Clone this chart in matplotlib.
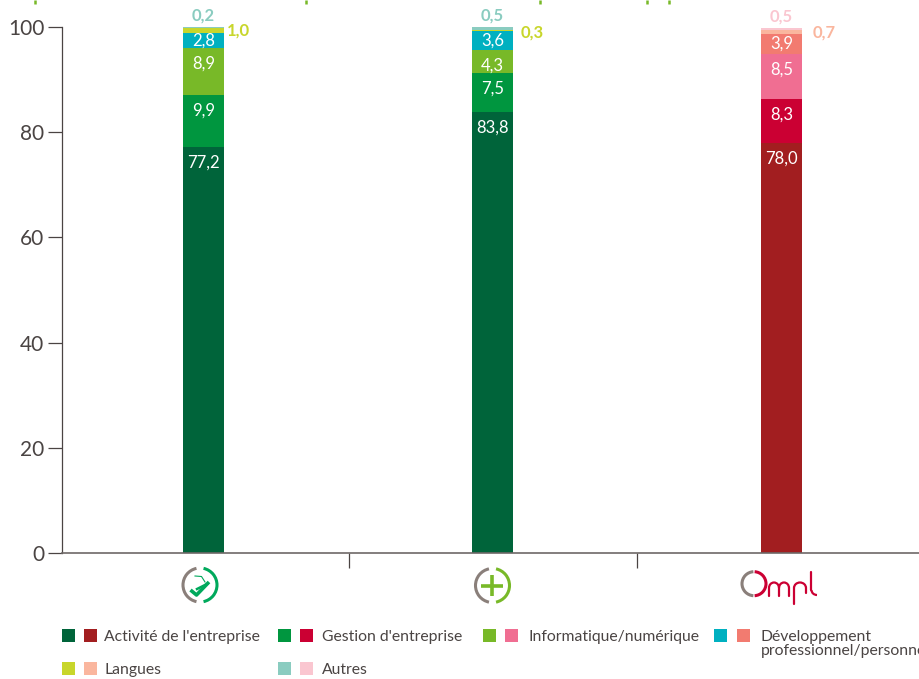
import matplotlib
matplotlib.use("Agg")
import matplotlib.pyplot as plt
from matplotlib.patches import Arc, Rectangle

plt.rcParams["font.family"] = ["Lato", "DejaVu Sans"]

# share of each training theme, one list per stacked segment
activite = [77.2, 83.8, 78.0]
gestion = [9.9, 7.5, 8.3]
informatique = [8.9, 4.3, 8.5]
developpement = [2.8, 3.6, 3.9]
langues = [1.0, 0.3, 0.7]
autres = [0.2, 0.5, 0.5]
series = [activite, gestion, informatique, developpement, langues, autres]

y_ticks = [0, 20, 40, 60, 80, 100]

# colours per segment: first two bars are green, the third is red
greens = ["#00643a", "#00963f", "#78b928", "#00b0c0", "#c8d62b", "#8accc0"]
reds = ["#a21e20", "#cb0033", "#f06e92", "#f27b70", "#fab69e", "#fac6d0"]

legend_labels = ["Activité de l'entreprise", "Gestion d'entreprise", "Informatique/numérique",
                 "Développement\nprofessionnel/personnel", "Langues", "Autres"]
legend_x = [62, 278, 483, 714, 62, 278]
legend_y = [635.5, 635.5, 635.5, 635.5, 668.5, 668.5]
legend_text_x = [104.5, 322, 529, 761, 104.5, 322]

W, H = 920, 679
text_col = "#4a4443"
fig = plt.figure(figsize=(W / 100, H / 100), dpi=100)

# main axes, placed on the pixel positions of the reference
left, right, bottom, top = 62.5, 920, 553, 27
ax = fig.add_axes([left / W, 1 - bottom / H, (right - left) / W, (bottom - top) / H])
ax.set_xlim(-141 / 289, 716.5 / 289)
ax.set_ylim(0, 100)

x = [0, 1, 2]
base = [0, 0, 0]
side_offset = [17, 20.5, 22.5]  # points from bar centre to the side label
for s, vals in enumerate(series):
    cols = [greens[s], greens[s], reds[s]]
    ax.bar(x, vals, width=41 / 289, bottom=base, color=cols, linewidth=0)
    for i, v in enumerate(vals):
        seg_top = base[i] + v
        label = f"{v:.1f}".replace(".", ",")
        if s < 3:
            # white value sits just under the top of its segment
            ax.annotate(label, (x[i], seg_top), xytext=(0, -5.5), textcoords="offset points",
                        ha="center", va="top", color="white", fontsize=12)
        elif s == 3:
            ax.annotate(label, (x[i], base[i] + v / 2), xytext=(0, 0), textcoords="offset points",
                        ha="center", va="center", color="white", fontsize=12)
        elif s == 4:
            # small segments get a coloured label at the side
            ax.annotate(label, (x[i], seg_top), xytext=(side_offset[i], -2), textcoords="offset points",
                        ha="left", va="center", color=cols[i], fontsize=12, fontweight="bold")
        else:
            ax.annotate(label, (x[i], seg_top), xytext=(0, 2.5), textcoords="offset points",
                        ha="center", va="bottom", color=cols[i], fontsize=12, fontweight="bold")
        base[i] += v

for side in ["top", "right"]:
    ax.spines[side].set_visible(False)
ax.spines["left"].set_color(text_col)
ax.spines["bottom"].set_color("#6e6867")
ax.spines["left"].set_linewidth(0.9)
ax.spines["bottom"].set_linewidth(1.2)
ax.set_yticks(y_ticks)
ax.tick_params(axis="y", length=10, width=0.9, color=text_col, labelcolor=text_col, labelsize=15, pad=3)
ax.set_xticks([0.503, 1.5])
ax.set_xticklabels([])
ax.tick_params(axis="x", length=11, width=0.9, color=text_col)

# overlay in pixel coordinates for the logos and the hand made legend
ov = fig.add_axes([0, 0, 1, 1])
ov.set_xlim(0, W)
ov.set_ylim(H, 0)
ov.axis("off")

grey = "#8a7f7a"
logo_green = "#00a95c"
plus_green = "#78b928"
ompl_red = "#cb0033"

# the title is cut off by the top edge: only its descenders show
for px in [35, 306, 540, 647, 669]:
    ov.plot([px, px], [0, 3.5], color=plus_green, lw=1.8, solid_capstyle="butt")


def ring(cx, cy, col_right, rx=17, ry=17, lw=2.2, gap=12):
    ov.add_patch(Arc((cx, cy), 2 * rx, 2 * ry, theta1=90 + gap, theta2=270 - gap, color=grey, lw=lw))
    ov.add_patch(Arc((cx, cy), 2 * rx, 2 * ry, theta1=-90 + gap, theta2=90 - gap, color=col_right, lw=lw))


# logo 1: ring with a check mark and a small figure
ring(200, 585, logo_green)
ov.plot([190.5, 196.5, 209], [590, 595, 582], color=logo_green, lw=2.6, solid_capstyle="butt")
ov.plot([195, 201.5, 205], [576, 576.5, 582], color=logo_green, lw=0.8)
ov.plot([197, 207], [589, 584], color=logo_green, lw=1.8)

# logo 2: ring with a plus
ring(492.5, 585.5, plus_green)
ov.plot([481.5, 503.5], [585.5, 585.5], color=plus_green, lw=2.6, solid_capstyle="butt")
ov.plot([492.5, 492.5], [575, 596], color=plus_green, lw=2.6, solid_capstyle="butt")

# logo 3: Ompl, drawn with strokes since no installed font looks like it
ring(754, 583.7, ompl_red, rx=12, ry=12, lw=2.2, gap=3)
stroke = dict(color=ompl_red, lw=1.6, solid_capstyle="round")
ov.add_patch(Arc((774, 588), 10, 11, theta1=180, theta2=360, color=ompl_red, lw=1.6))
ov.add_patch(Arc((784, 588), 10, 11, theta1=180, theta2=360, color=ompl_red, lw=1.6))
ov.plot([769, 769], [588, 595.5], **stroke)
ov.plot([779, 779], [588, 595.5], **stroke)
ov.plot([789, 789], [588, 595.5], **stroke)
ov.plot([794, 794], [588, 603.5], **stroke)
ov.add_patch(Arc((800, 588), 12, 11, theta1=180, theta2=360, color=ompl_red, lw=1.6))
ov.plot([806, 806], [588, 593], **stroke)
ov.plot([811.5, 811.5], [572, 590], **stroke)
ov.add_patch(Arc((817, 590), 11, 10, theta1=90, theta2=180, color=ompl_red, lw=1.6))

for i, label in enumerate(legend_labels):
    lx, ly = legend_x[i], legend_y[i]
    gap = 23 if i == 3 else 22
    ov.add_patch(Rectangle((lx, ly - 6.5), 13, 13, color=greens[i], lw=0))
    ov.add_patch(Rectangle((lx + gap, ly - 6.5), 13, 13, color=reds[i], lw=0))
    ov.text(legend_text_x[i], ly + (9 if i == 3 else 1.5), label, color=text_col, fontsize=11.3,
            va="center", ha="left", linespacing=1.0)

fig.savefig("out.png", dpi=100)
